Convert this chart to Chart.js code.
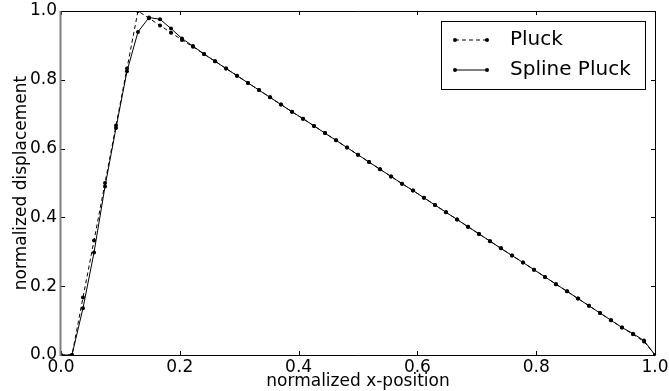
<!DOCTYPE html>
<html>
<head>
<meta charset="utf-8">
<script src="https://cdn.jsdelivr.net/npm/chart.js@4"></script>
<style>
html, body { margin: 0; padding: 0; background: #fff; }
#wrap { width: 669px; height: 391px; }
</style>
</head>
<body>
<div id="wrap"><canvas id="chart"></canvas></div>
<script>
// normalized x positions of the samples along the string
const xPositions = [
    0, 0.0185, 0.0370, 0.0556, 0.0741, 0.0926, 0.1111, 0.1296, 0.1481, 0.1667,
    0.1852, 0.2037, 0.2222, 0.2407, 0.2593, 0.2778, 0.2963, 0.3148, 0.3333, 0.3519,
    0.3704, 0.3889, 0.4074, 0.4259, 0.4444, 0.4630, 0.4815, 0.5000, 0.5185, 0.5370,
    0.5556, 0.5741, 0.5926, 0.6111, 0.6296, 0.6481, 0.6667, 0.6852, 0.7037, 0.7222,
    0.7407, 0.7593, 0.7778, 0.7963, 0.8148, 0.8333, 0.8519, 0.8704, 0.8889, 0.9074,
    0.9259, 0.9444, 0.9630, 0.9815, 1.0
];
const pluck = [
    0, 0, 0.167, 0.333, 0.500, 0.667, 0.833, 1.000, 0.979, 0.958,
    0.937, 0.916, 0.896, 0.875, 0.854, 0.833, 0.812, 0.791, 0.770, 0.749,
    0.728, 0.707, 0.687, 0.666, 0.645, 0.624, 0.603, 0.582, 0.561, 0.540,
    0.519, 0.498, 0.478, 0.457, 0.436, 0.415, 0.394, 0.373, 0.352, 0.331,
    0.310, 0.289, 0.269, 0.248, 0.227, 0.206, 0.185, 0.164, 0.143, 0.122,
    0.101, 0.080, 0.060, 0.039, 0
];
const splinePluck = [
    0, 0, 0.136, 0.298, 0.490, 0.660, 0.825, 0.939, 0.981, 0.976,
    0.949, 0.920, 0.898, 0.875, 0.854, 0.833, 0.812, 0.791, 0.770, 0.749,
    0.728, 0.707, 0.687, 0.666, 0.645, 0.624, 0.603, 0.582, 0.561, 0.540,
    0.519, 0.498, 0.478, 0.457, 0.436, 0.415, 0.394, 0.373, 0.352, 0.331,
    0.310, 0.289, 0.269, 0.248, 0.227, 0.206, 0.185, 0.164, 0.143, 0.122,
    0.101, 0.080, 0.062, 0.042, 0
];
const tickValues = [0, 0.2, 0.4, 0.6, 0.8, 1.0];
const seriesNames = ['Pluck', 'Spline Pluck'];

const FONT = 'DejaVu Sans';

function toPoints(ys) {
    return xPositions.map(function (x, i) { return { x: x, y: ys[i] }; });
}

// matplotlib-like frame: spines on all sides and inward ticks
const framePlugin = {
    id: 'frame',
    afterDatasetsDraw(chart) {
        const { ctx, chartArea: a, scales } = chart;
        ctx.save();
        ctx.strokeStyle = '#000';
        ctx.lineWidth = 1;
        ctx.beginPath();
        ctx.moveTo(a.left, a.top + 0.5); ctx.lineTo(a.right + 0.5, a.top + 0.5);
        ctx.lineTo(a.right + 0.5, a.bottom + 0.5); ctx.lineTo(a.left, a.bottom + 0.5);
        tickValues.forEach(function (v) {
            const px = Math.round(scales.x.getPixelForValue(v)) + 0.5;
            ctx.moveTo(px, a.bottom); ctx.lineTo(px, a.bottom - 4);
            ctx.moveTo(px, a.top); ctx.lineTo(px, a.top + 4);
            const py = Math.round(scales.y.getPixelForValue(v)) + 0.5;
            ctx.moveTo(a.left, py); ctx.lineTo(a.left + 4, py);
            ctx.moveTo(a.right, py); ctx.lineTo(a.right - 4, py);
        });
        ctx.stroke();
        // left spine
        ctx.strokeStyle = '#808080';
        ctx.lineWidth = 2;
        ctx.beginPath();
        ctx.moveTo(a.left - 0.5, a.top); ctx.lineTo(a.left - 0.5, a.bottom + 1);
        ctx.stroke();
        ctx.restore();
    }
};

// boxed legend in the upper right corner
const boxLegend = {
    id: 'boxLegend',
    afterDraw(chart) {
        const ctx = chart.ctx;
        const a = chart.chartArea;
        const x0 = a.right - 214, y0 = a.top + 10, w = 204, h = 68;
        ctx.save();
        ctx.fillStyle = '#fff';
        ctx.fillRect(x0, y0, w, h);
        ctx.strokeStyle = '#000';
        ctx.lineWidth = 1;
        ctx.strokeRect(x0 + 0.5, y0 + 0.5, w, h);
        chart.data.datasets.forEach(function (ds, i) {
            const cy = y0 + 19 + i * 30;
            const lx0 = x0 + 14, lx1 = x0 + 46;
            ctx.setLineDash(ds.borderDash || []);
            ctx.strokeStyle = ds.borderColor;
            ctx.lineWidth = ds.borderWidth;
            ctx.beginPath();
            ctx.moveTo(lx0, cy); ctx.lineTo(lx1, cy);
            ctx.stroke();
            ctx.setLineDash([]);
            ctx.fillStyle = ds.pointBackgroundColor;
            [lx0, lx1].forEach(function (px) {
                ctx.beginPath();
                ctx.arc(px, cy, 2, 0, Math.PI * 2);
                ctx.fill();
            });
            ctx.fillStyle = '#000';
            ctx.font = '20px "' + FONT + '"';
            ctx.textBaseline = 'middle';
            ctx.fillText(ds.label, x0 + 69, cy);
        });
        ctx.restore();
    }
};

new Chart(document.getElementById('chart'), {
    type: 'line',
    data: {
        datasets: [
            {
                label: seriesNames[0],
                data: toPoints(pluck),
                borderColor: '#000',
                borderWidth: 1,
                borderDash: [4, 3],
                pointRadius: 2,
                pointBorderWidth: 0,
                pointBackgroundColor: '#000',
                tension: 0
            },
            {
                label: seriesNames[1],
                data: toPoints(splinePluck),
                borderColor: '#000',
                borderWidth: 1,
                pointRadius: 2,
                pointBorderWidth: 0,
                pointBackgroundColor: '#000',
                tension: 0
            }
        ]
    },
    options: {
        responsive: true,
        maintainAspectRatio: false,
        animation: false,
        events: [],
        layout: { padding: { top: 11, right: 14, left: 0, bottom: 0 } },
        plugins: { legend: { display: false }, tooltip: { enabled: false } },
        scales: {
            x: {
                type: 'linear',
                min: 0,
                max: 1,
                afterFit: function (s) {
                    s.height = 36;
                    s.paddingLeft = 0;
                    s.paddingRight = 0;
                },
                grid: { display: false, drawTicks: false },
                border: { display: false },
                ticks: {
                    stepSize: 0.2,
                    autoSkip: false,
                    maxRotation: 0,
                    padding: 2,
                    color: '#000',
                    font: { family: FONT, size: 17 },
                    callback: function (v) { return v.toFixed(1); }
                },
                title: {
                    display: true,
                    text: 'normalized x-position',
                    color: '#000',
                    font: { family: FONT, size: 17 },
                    padding: { top: 0, bottom: -1 }
                }
            },
            y: {
                min: 0,
                max: 1,
                afterFit: function (s) {
                    s.width = 61;
                    s.paddingTop = 0;
                    s.paddingBottom = 0;
                },
                grid: { display: false, drawTicks: false },
                border: { display: false },
                ticks: {
                    stepSize: 0.2,
                    padding: 4,
                    color: '#000',
                    font: { family: FONT, size: 17 },
                    callback: function (v) { return v.toFixed(1); }
                },
                title: {
                    display: true,
                    text: 'normalized displacement',
                    color: '#000',
                    font: { family: FONT, size: 17 },
                    padding: { top: 11, bottom: 0 }
                }
            }
        }
    },
    plugins: [framePlugin, boxLegend]
});
</script>
</body>
</html>
